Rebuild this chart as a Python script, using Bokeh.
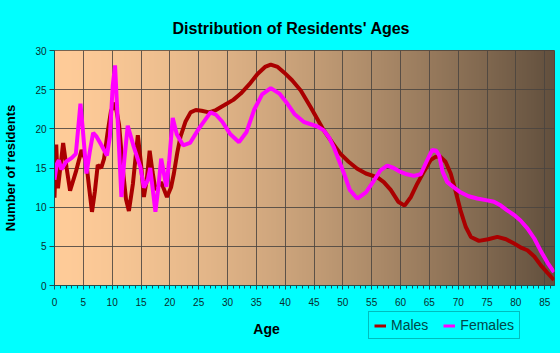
import numpy as np
from bokeh.plotting import figure
from bokeh.layouts import column
from bokeh.models import Legend, LegendItem, Label, FixedTicker, Title
from bokeh.embed import file_html
from bokeh.resources import INLINE

# ---- data ----
male_age = [0, 0.3, 0.6, 1.5, 2.1, 2.7, 3.7, 4.7, 5.5, 6.0, 6.5, 7.0, 7.5, 8.1, 8.6, 9.2, 9.8,
            10.5, 11.2, 11.9, 12.4, 12.9, 13.6, 14.45, 15.0, 15.5, 16.0, 16.5, 17.0, 17.5, 18.5,
            19.5, 20.2, 20.7, 21.3, 21.85, 22.7, 23.6, 24.5, 25.5, 26.8, 28, 29.4, 31, 32.3,
            33.8, 35.2, 36.5, 37.5, 38.7, 39.8, 41.2, 42.7, 44.4, 46.7, 48.2, 49.6, 51, 52.5,
            54, 56.0, 57.1, 58.3, 59.6, 60.7, 61.8, 62.9, 64.1, 65.2, 66.0, 66.8, 67.8, 68.7,
            69.5, 70.4, 71.3, 72.2, 73.6, 75.2, 76.8, 78.3, 79.7, 81, 82.0, 83.2, 84.3, 85.5, 86.6]
male_val = [11.2, 18.0, 12.4, 18.2, 15.0, 12.1, 14.5, 17.3, 15.8, 12.5, 9.4, 12.0, 15.4, 15.0, 16.2,
            19.5, 22.3, 23.3, 20.5, 14.5, 11.0, 9.5, 13.0, 19.2, 15.5, 11.3, 13.5, 17.2, 14.5, 12.2,
            13.2, 11.3, 12.5, 14.3, 17.0, 19.0, 20.9, 22.1, 22.4, 22.3, 22.1, 22.4, 23.0, 23.7,
            24.5, 25.7, 27.0, 27.9, 28.2, 27.9, 27.2, 26.2, 24.9, 22.8, 19.8, 18.2, 16.8, 15.8,
            14.9, 14.3, 13.8, 13.2, 12.2, 10.7, 10.2, 11.3, 13.0, 14.6, 16.0, 16.4, 16.5, 15.8,
            14.3, 12.2, 9.6, 7.5, 6.2, 5.7, 5.9, 6.2, 5.9, 5.35, 4.8, 4.5, 3.7, 2.6, 1.6, 0.7]

female_age = [0, 0.4, 0.75, 1.2, 2.0, 3.0, 3.7, 4.1, 4.5, 4.9, 5.55, 6.1, 6.7, 7.3, 8.0, 9.1, 9.6,
              10.1, 10.5, 10.9, 11.6, 12.1, 12.7, 13.75, 14.9, 15.5, 16.2, 16.6, 17.0, 17.5, 18.0,
              18.5, 19.4, 19.9, 20.5, 21.2, 22.3, 23.5, 25.0, 27.05, 28, 29.1, 30.5, 32.0, 33.3,
              34.6, 36, 37.5, 39, 40.4, 41.6, 43.2, 45.6, 46.7, 47.6, 48.4, 50.2, 51.2, 52.5, 54,
              55.4, 56.5, 57.7, 58.8, 60, 61.1, 62.3, 63.5, 64.5, 65.5, 66.2, 66.7, 67.3, 68.1,
              69.3, 70.4, 71.8, 73.3, 74.8, 76.2, 77.4, 78.5, 79.7, 80.8, 82.0, 83.2, 84.4, 85.5, 86.6]
female_val = [13.5, 15.5, 16.0, 14.8, 15.8, 16.3, 16.8, 20.0, 23.2, 20.0, 14.3, 17.0, 19.5, 19.0,
              18.1, 16.6, 19.0, 25.5, 28.1, 22.0, 11.3, 16.0, 20.4, 17.7, 15.1, 12.5, 13.5, 15.0,
              12.5, 9.4, 12.5, 16.2, 12.6, 16.0, 21.4, 19.3, 17.9, 18.2, 20.0, 22.1, 21.8, 20.9,
              19.3, 18.3, 19.6, 22.4, 24.4, 25.2, 24.5, 23.2, 21.9, 20.9, 20.3, 19.8, 18.9, 17.7,
              14.3, 12.2, 11.1, 11.9, 13.4, 14.7, 15.3, 15.0, 14.5, 14.2, 14.0, 14.2, 15.8, 17.3,
              17.2, 16.6, 14.5, 13.2, 12.5, 11.9, 11.4, 11.1, 10.9, 10.7, 10.2, 9.6, 9.0, 8.3, 7.3,
              6.0, 4.3, 2.9, 1.7]

x_ticks = list(range(0, 90, 5))
y_ticks = list(range(0, 35, 5))
series_names = ["Males", "Females"]
series_colors = ["#aa0000", "#ff00ff"]

X_MAX = 86.7
Y_MAX = 30
CYAN = "#00ffff"
FRAME_LEFT = 54

p = figure(width=560, height=310, x_range=(0, X_MAX), y_range=(0, Y_MAX),
           output_backend="svg", toolbar_location=None,
           min_border_left=FRAME_LEFT, min_border_right=6, min_border_top=50, min_border_bottom=25)

p.background_fill_color = "#ffcc99"
p.border_fill_color = CYAN
p.outline_line_color = "#4a4038"
p.outline_line_width = 1
p.styles = {"background-color": CYAN}

# title
p.add_layout(Title(text="Distribution of Residents' Ages", align="left", offset=118,
                   text_font="Liberation Sans", text_font_style="bold",
                   text_font_size="16px", text_color="#000000", standoff=27), "above")

# gradient background (peach -> dark brown)
n = 300
t = np.linspace(0, 1, n) ** 1.45
c0 = np.array([255, 204, 153])
c1 = np.array([98, 80, 62])
cols = (c0[None, :] * (1 - t[:, None]) + c1[None, :] * t[:, None]).astype(np.uint32)
img = np.empty((1, n), dtype=np.uint32)
view = img.view(dtype=np.uint8).reshape((1, n, 4))
view[0, :, 0] = cols[:, 0]
view[0, :, 1] = cols[:, 1]
view[0, :, 2] = cols[:, 2]
view[0, :, 3] = 255
p.image_rgba(image=[img], x=0, y=0, dw=X_MAX, dh=Y_MAX, level="image")

# grid
for g in (p.xgrid, p.ygrid):
    g.grid_line_color = "#4a4440"
    g.grid_line_alpha = 0.85
    g.grid_line_width = 1
p.xgrid.ticker = FixedTicker(ticks=x_ticks)
p.ygrid.ticker = FixedTicker(ticks=y_ticks)

# axes
p.xaxis.ticker = FixedTicker(ticks=x_ticks, minor_ticks=list(range(0, 87)))
p.yaxis.ticker = FixedTicker(ticks=y_ticks)
for ax in (p.xaxis, p.yaxis):
    ax.axis_line_color = "#1f4f4f"
    ax.major_tick_line_color = "#1f4f4f"
    ax.minor_tick_line_color = "#1f4f4f"
    ax.major_label_text_font = "Liberation Sans"
    ax.major_label_text_font_size = "10px"
    ax.major_label_text_color = "#0a2e2e"
    ax.major_tick_in = 0
    ax.minor_tick_in = 0
p.xaxis.major_tick_out = 4
p.xaxis.minor_tick_out = 3
p.xaxis.major_label_standoff = 8
p.yaxis.major_tick_out = 5
p.yaxis.minor_tick_out = 0
p.yaxis.major_label_standoff = 3

p.yaxis.axis_label = "Number of residents"
p.yaxis.axis_label_text_font = "Liberation Sans"
p.yaxis.axis_label_text_font_style = "bold"
p.yaxis.axis_label_text_font_size = "13px"
p.yaxis.axis_label_text_color = "#000000"
p.yaxis.axis_label_standoff = 14

# lines
p.line(male_age, male_val, line_color=series_colors[0], line_width=4)
p.line(female_age, female_val, line_color=series_colors[1], line_width=4)

# bottom strip: x-axis title and legend (the strip's ranges lie beyond the data,
# so its copies of the series serve only as legend entries)
pb = figure(width=560, height=43, x_range=(1000, 1100), y_range=(1000, 1100),
            output_backend="svg", toolbar_location=None,
            x_axis_location=None, y_axis_location=None,
            min_border_left=0, min_border_right=0, min_border_top=0, min_border_bottom=0)
pb.grid.visible = False
pb.outline_line_color = None
pb.background_fill_color = None
pb.border_fill_color = CYAN
pb.styles = {"background-color": CYAN}

# the strip's frame is aligned with the main frame, so screen x is measured from FRAME_LEFT
pb.add_layout(Label(x=266 - FRAME_LEFT, y=25, x_units="screen", y_units="screen", text="Age",
                    text_align="center", text_baseline="alphabetic",
                    text_font="Liberation Sans", text_font_style="bold",
                    text_font_size="14px", text_color="#000000"))

rm = pb.line(male_age, male_val, line_color=series_colors[0], line_width=3)
rf = pb.line(female_age, female_val, line_color=series_colors[1], line_width=3)
legend = Legend(items=[LegendItem(label=series_names[0], renderers=[rm]),
                       LegendItem(label=series_names[1], renderers=[rf])],
                location=(368 - FRAME_LEFT, 14), orientation="horizontal",
                background_fill_alpha=0, border_line_color="#007b7b", border_line_width=1,
                label_text_font="Liberation Sans", label_text_font_size="14px",
                label_text_color="#004848", glyph_width=12, glyph_height=13,
                label_standoff=5, spacing=15, padding=5, margin=0)
pb.add_layout(legend, "center")

layout = column(p, pb, spacing=0)
layout.styles = {"background-color": CYAN, "outline": "1px solid #009a9a",
                 "outline-offset": "-1px"}
open("out.html", "w").write(file_html(layout, INLINE))
